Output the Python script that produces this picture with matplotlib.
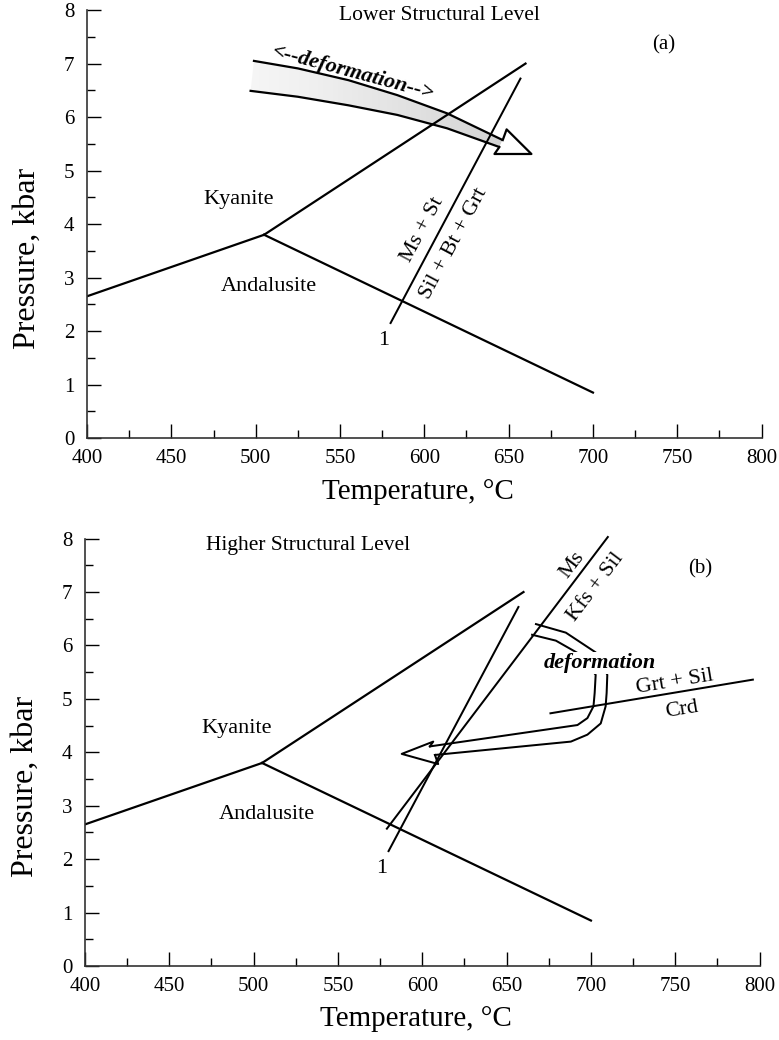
import numpy as np
import matplotlib
matplotlib.use("Agg")
import matplotlib.pyplot as plt
from matplotlib.patches import Polygon

plt.rcParams['font.family'] = ['Liberation Serif', 'DejaVu Serif']

# reaction boundaries (T in C, P in kbar)
T_ky_and = [400, 505]
P_ky_and = [2.65, 3.8]
T_ky_sil = [505, 660]
P_ky_sil = [3.8, 7.0]
T_and_sil = [505, 700]
P_and_sil = [3.8, 0.85]
T_r1 = [580, 657]
P_r1 = [2.15, 6.72]
T_ms = [579, 710]
P_ms = [2.57, 8.03]
T_crd = [676, 796]
P_crd = [4.73, 5.36]

# deformation path, lower structural level (band edges + head)
a_up_T = [499, 525, 555, 584, 613.5, 646.5]
a_up_P = [7.05, 6.91, 6.69, 6.41, 6.07, 5.57]
a_lo_T = [497, 525, 555, 584, 613.5, 644.5]
a_lo_P = [6.49, 6.38, 6.22, 6.04, 5.79, 5.44]
a_head_T = [648.8, 663.5, 641.6]
a_head_P = [5.77, 5.31, 5.31]

# deformation path, higher structural level
b_out_T = [667.4, 685.1, 702.8, 709.7, 709.3, 708.7, 705.8, 697.9, 688.1, 607.5]
b_out_P = [6.40, 6.24, 5.87, 5.45, 5.11, 4.86, 4.54, 4.33, 4.20, 3.95]
b_in_T = [665.1, 679.2, 692.0, 702.8, 702.2, 701.5, 697.9, 692.0, 604.5]
b_in_P = [6.20, 6.09, 5.86, 5.45, 5.11, 4.86, 4.64, 4.51, 4.11]
b_head_T = [606.5, 587.8, 609.4]
b_head_P = [4.20, 3.97, 3.78]

xticks = list(range(400, 801, 50))
yticks = list(range(0, 9))

fig = plt.figure(figsize=(7.79, 10.4), dpi=100)
ax1 = fig.add_axes([0.1117, 0.5788, 0.866, 0.4115])
ax2 = fig.add_axes([0.1091, 0.0712, 0.866, 0.4109])

LW = 1.6
FS = 16


def base(ax):
    ax.plot(T_ky_and, P_ky_and, color='k', lw=LW)
    ax.plot(T_ky_sil, P_ky_sil, color='k', lw=LW)
    ax.plot(T_and_sil, P_and_sil, color='k', lw=LW)
    ax.plot(T_r1, P_r1, color='k', lw=LW * 0.9)
    ax.text(490, 4.45, 'Kyanite', fontsize=FS, ha='center', va='center')
    ax.text(508, 2.84, 'Andalusite', fontsize=FS, ha='center', va='center')
    ax.text(576, 1.83, '1', fontsize=FS, ha='center', va='center')

    ax.set_xlim(400, 800)
    ax.set_ylim(0, 8)
    ax.set_xticks(xticks)
    ax.set_xticks(np.arange(425, 800, 50), minor=True)
    ax.set_yticks(yticks)
    ax.set_yticks(np.arange(0.5, 8, 1), minor=True)
    ax.tick_params(which='major', direction='in', length=10, width=1.0,
                   labelsize=15)
    ax.tick_params(axis='x', which='major', pad=8)
    ax.tick_params(axis='y', which='major', pad=9)
    ax.tick_params(which='minor', direction='in', length=6, width=1.0)
    for s in ['top', 'right']:
        ax.spines[s].set_visible(False)
    for s in ['left', 'bottom']:
        ax.spines[s].set_linewidth(1.2)
        ax.spines[s].set_color('#333333')
    ax.set_xlabel('Temperature, °C', fontsize=21, va='center')
    ax.xaxis.set_label_coords(0.49, -0.125)
    ax.set_ylabel('Pressure, kbar', fontsize=23, va='center')
    ax.yaxis.set_label_coords(-0.088, 0.42)


def angle(T, P):
    return np.degrees(np.arctan2(P[1] - P[0], T[1] - T[0]))


# ---- (a) lower structural level
base(ax1)
ang1 = angle(T_r1, P_r1)
ax1.text(598.8, 3.89, 'Ms + St', fontsize=FS, ha='center', va='center',
         rotation=ang1, transform_rotates_text=True, rotation_mode='anchor')
ax1.text(617.5, 3.64, 'Sil + Bt + Grt', fontsize=FS, ha='center', va='center',
         rotation=ang1, transform_rotates_text=True, rotation_mode='anchor')
ax1.text(609, 7.9, 'Lower Structural Level', fontsize=15.5, ha='center', va='center')
ax1.text(742, 7.35, '(a)', fontsize=15, ha='center', va='center')

band_T = a_up_T + a_lo_T[::-1]
band_P = a_up_P + a_lo_P[::-1]
band = Polygon(np.column_stack([band_T, band_P]), closed=True,
               facecolor='none', edgecolor='none')
ax1.add_patch(band)
grad = np.linspace(0.08, 0.28, 256).reshape(1, -1)
im = ax1.imshow(grad, cmap='Greys', vmin=0, vmax=1, aspect='auto',
                extent=[min(band_T), max(band_T), min(band_P), max(band_P)],
                zorder=1, interpolation='bilinear')
im.set_clip_path(band)
ax1.plot(a_up_T, a_up_P, color='k', lw=LW)
ax1.plot(a_lo_T, a_lo_P, color='k', lw=LW)
head_T = [a_up_T[-1]] + a_head_T + [a_lo_T[-1]]
head_P = [a_up_P[-1]] + a_head_P + [a_lo_P[-1]]
ax1.add_patch(Polygon(np.column_stack([head_T, head_P]), closed=True,
                      facecolor='white', edgecolor='none', zorder=3))
ax1.plot(head_T, head_P, color='k', lw=LW, zorder=4)
ax1.text(558, 6.82, '<--deformation-->', fontsize=16, fontweight='bold',
         fontstyle='italic', ha='center', va='center', rotation=-15,
         rotation_mode='anchor')
ax1.set_xlim(400, 800)
ax1.set_ylim(0, 8)

# ---- (b) higher structural level
base(ax2)
ax2.plot(T_ms, P_ms, color='k', lw=LW * 0.9, clip_on=False)
ax2.plot(T_crd, P_crd, color='k', lw=LW * 0.9)
ang_ms = angle(T_ms, P_ms)
ang_crd = angle(T_crd, P_crd)
ax2.text(689, 7.51, 'Ms', fontsize=FS, ha='center', va='center',
         rotation=ang_ms, transform_rotates_text=True, rotation_mode='anchor')
ax2.text(702.8, 7.10, 'Kfs + Sil', fontsize=FS, ha='center', va='center',
         rotation=ang_ms, transform_rotates_text=True, rotation_mode='anchor')
ax2.text(750, 5.32, 'Grt + Sil', fontsize=FS, ha='center', va='center',
         rotation=ang_crd, transform_rotates_text=True, rotation_mode='anchor')
ax2.text(754, 4.79, 'Crd', fontsize=FS, ha='center', va='center',
         rotation=ang_crd, transform_rotates_text=True, rotation_mode='anchor')
ax2.text(532, 7.88, 'Higher Structural Level', fontsize=15.5, ha='center', va='center')
ax2.text(764.5, 7.43, '(b)', fontsize=15, ha='center', va='center')

ax2.plot(b_out_T, b_out_P, color='k', lw=LW * 0.9)
ax2.plot(b_in_T, b_in_P, color='k', lw=LW * 0.9)
bh_T = [b_in_T[-1]] + b_head_T + [b_out_T[-1]]
bh_P = [b_in_P[-1]] + b_head_P + [b_out_P[-1]]
ax2.plot(bh_T, bh_P, color='k', lw=LW * 0.9)
ax2.text(705, 5.67, 'deformation', fontsize=16, fontweight='bold',
         fontstyle='italic', ha='center', va='center', zorder=5,
         bbox=dict(facecolor='white', edgecolor='none', pad=0.5))

plt.savefig('out.png', dpi=100)
